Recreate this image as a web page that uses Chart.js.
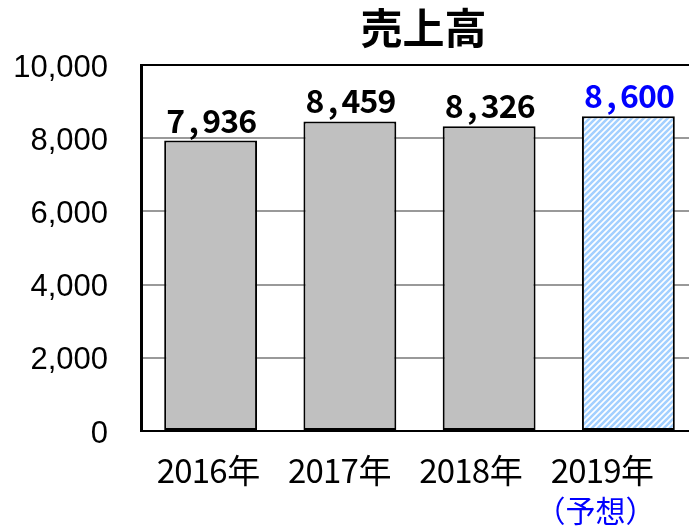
<!DOCTYPE html>
<html>
<head>
<meta charset="utf-8">
<script src="https://cdn.jsdelivr.net/npm/chart.js@4"></script>
<style>
  html, body { margin: 0; padding: 0; background: #fff; overflow: hidden; }
  #wrap { width: 700px; height: 530px; }
</style>
</head>
<body>
<div id="wrap"><canvas id="salesChart" width="700" height="530"></canvas></div>
<script>
// データ
const years = ['2016年', '2017年', '2018年', '2019年'];
const sales = [7936, 8459, 8326, 8600];
const forecastNote = '（予想）';
const yTicks = [0, 2000, 4000, 6000, 8000, 10000];

const BLUE = '#0000ff';
const JP = '"Noto Sans CJK JP", sans-serif';

// 2019年（予想）の斜線パターン
function makeHatch() {
  const c = document.createElement('canvas');
  c.width = 6; c.height = 6;
  const g = c.getContext('2d');
  g.fillStyle = '#ffffff';
  g.fillRect(0, 0, 6, 6);
  g.strokeStyle = '#a3d0ff';
  g.lineWidth = 2.6;
  g.beginPath();
  g.moveTo(-3, 3); g.lineTo(3, -3);
  g.moveTo(0, 6); g.lineTo(6, 0);
  g.moveTo(3, 9); g.lineTo(9, 3);
  g.stroke();
  return g.createPattern(c, 'repeat');
}

// 等幅ゴシック風に1文字ずつ描く（半角は half、全角は full の幅）
function drawCells(ctx, text, cx, y, half, full) {
  const chars = [...text];
  const w = c => (c.charCodeAt(0) > 0xff ? full : half);
  const total = chars.reduce((s, c) => s + w(c), 0);
  let x = cx - total / 2;
  ctx.textAlign = 'center';
  chars.forEach(c => {
    ctx.fillText(c, x + w(c) / 2, y);
    x += w(c);
  });
}

const ctx = document.getElementById('salesChart').getContext('2d');
const hatch = makeHatch();

const labelsPlugin = {
  id: 'labelsPlugin',
  afterDatasetsDraw(chart) {
    const { ctx, chartArea, scales } = chart;
    const meta = chart.getDatasetMeta(0);
    ctx.save();

    // 値ラベル
    ctx.font = 'bold 32px ' + JP;
    ctx.textBaseline = 'alphabetic';
    meta.data.forEach((bar, i) => {
      ctx.fillStyle = i === years.length - 1 ? BLUE : '#000';
      drawCells(ctx, sales[i].toLocaleString('en-US'), bar.x + 1, bar.y - 8, 18, 32);
    });

    // タイトル
    ctx.fillStyle = '#000';
    ctx.font = 'bold 42px ' + JP;
    ctx.textAlign = 'center';
    ctx.textBaseline = 'middle';
    ctx.fillText('売上高', (chartArea.left + chartArea.right) / 2 + 4, 28);

    // X軸ラベル（目盛り間隔は棒より少し狭い）
    ctx.textBaseline = 'alphabetic';
    years.forEach((y, i) => {
      const cx = chartArea.left + (scales.x.getPixelForValue(i) - chartArea.left) * 0.943 + 2;
      ctx.fillStyle = '#000';
      ctx.font = '33px ' + JP;
      drawCells(ctx, y, cx, chartArea.bottom + 52, 17.5, 33);
      if (i === years.length - 1) {
        ctx.fillStyle = BLUE;
        ctx.font = '30px ' + JP;
        ctx.textAlign = 'center';
        ctx.textBaseline = 'middle';
        ctx.fillText(forecastNote, cx - 7, chartArea.bottom + 80);
        ctx.textBaseline = 'alphabetic';
      }
    });
    ctx.restore();
  }
};

new Chart(ctx, {
  type: 'bar',
  data: {
    labels: years,
    datasets: [{
      data: sales,
      backgroundColor: sales.map((v, i) => i === sales.length - 1 ? hatch : '#c0c0c0'),
      borderColor: '#000',
      borderWidth: 2,
      borderSkipped: false,
      categoryPercentage: 1,
      barPercentage: 0.667
    }]
  },
  options: {
    responsive: false,
    animation: false,
    layout: { padding: { top: 65, right: 2, left: 0, bottom: 0 } },
    plugins: {
      legend: { display: false },
      title: { display: false },
      tooltip: { enabled: false }
    },
    scales: {
      x: {
        offset: true,
        grid: { display: false, drawTicks: false },
        border: { display: true, color: '#000', width: 2 },
        ticks: { display: false },
        afterFit(scale) { scale.height = 99; }
      },
      y: {
        min: 0,
        max: 10000,
        afterBuildTicks(scale) { scale.ticks = yTicks.map(v => ({ value: v })); },
        afterFit(scale) { scale.width = 141; },
        grid: {
          drawTicks: false,
          color: c => c.tick.value === 10000 ? '#000' : '#999',
          lineWidth: 2
        },
        border: { display: true, color: '#000', width: 3 },
        ticks: {
          padding: 33,
          labelOffset: 3,
          color: '#000',
          font: { family: '"Liberation Sans", Arial, sans-serif', size: 31 },
          callback: v => v.toLocaleString('en-US')
        }
      }
    }
  },
  plugins: [labelsPlugin]
});
</script>
</body>
</html>
